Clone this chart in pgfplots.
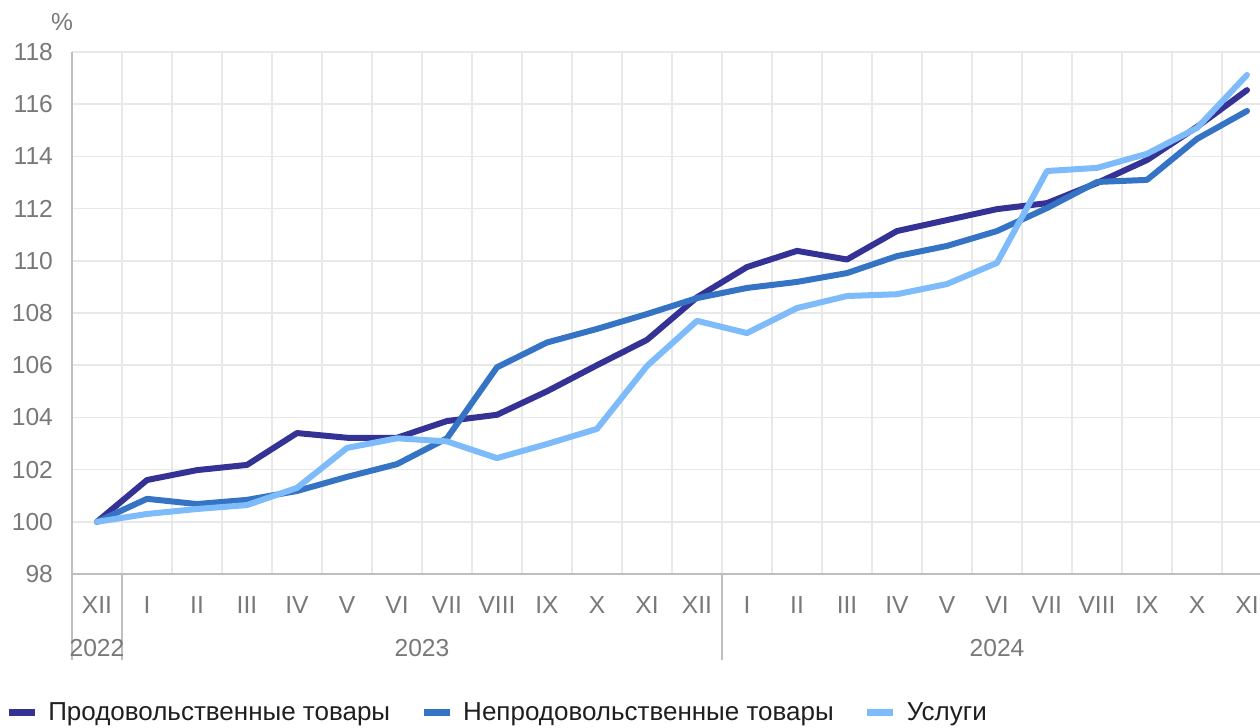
\documentclass[border=0pt]{standalone}
\usepackage{fontspec}
\setmainfont{Liberation Sans}
\usepackage{pgfplots}
\pgfplotsset{compat=1.18}
\definecolor{cfood}{RGB}{53,50,150}
\definecolor{cnon}{RGB}{53,116,196}
\definecolor{cserv}{RGB}{125,187,250}
\definecolor{gridc}{RGB}{232,232,232}
\definecolor{axc}{RGB}{190,190,190}
\definecolor{txtc}{RGB}{120,120,120}
\begin{document}
\begin{tikzpicture}
\useasboundingbox (-36pt,-77pt) rectangle (594pt,287pt);
\begin{axis}[
  at={(0,0)}, anchor=south west,
  scale only axis, width=594pt, height=261pt,
  xmin=-0.5, xmax=23.26, ymin=98, ymax=118,
  axis x line*=bottom, axis y line*=left,
  axis line style={draw=axc, line width=1.2pt, -},
  xtick={0,...,23},
  xticklabels={XII,I,II,III,IV,V,VI,VII,VIII,IX,X,XI,XII,I,II,III,IV,V,VI,VII,VIII,IX,X,XI},
  minor xtick={0.5,1.5,...,22.5},
  xminorgrids, ymajorgrids,
  minor grid style={draw=gridc, line width=0.8pt},
  major grid style={draw=gridc, line width=0.8pt},
  ytick={98,100,...,118},
  major tick length=0pt, minor tick length=0pt,
  tick label style={font=\fontsize{12.3}{14}\selectfont, text=txtc},
  xticklabel style={yshift=-8pt},
  yticklabel style={xshift=-6pt},
  /pgf/number format/assume math mode=true,
  clip=false,
  legend columns=3,
  legend style={at={(-0.0565,-0.266)}, anchor=west, draw=none, fill=none, inner sep=0pt,
    font=\fontsize{13}{15}\selectfont, text=black!88,
    /tikz/every odd column/.append style={column sep=5pt},
    /tikz/every even column/.append style={column sep=15pt},
    nodes={inner xsep=0pt}},
  legend image code/.code={\draw[#1, line width=3.5pt, line cap=butt] (0pt,0pt) -- (13pt,0pt);},
  every axis plot/.append style={line width=3pt, line join=round, line cap=round},
]
\addplot[cfood] coordinates {
(0,100) (1,101.6) (2,101.98) (3,102.18) (4,103.4) (5,103.22) (6,103.22) (7,103.86) (8,104.1) (9,105.0) (10,106.0) (11,106.97) (12,108.6)
(13,109.76) (14,110.38) (15,110.05) (16,111.14) (17,111.56) (18,111.98) (19,112.21) (20,112.98) (21,113.86) (22,115.13) (23,116.54)};
\addlegendentry{Продовольственные товары}
\addplot[cnon] coordinates {
(0,100) (1,100.88) (2,100.68) (3,100.84) (4,101.18) (5,101.72) (6,102.21) (7,103.2) (8,105.92) (9,106.87) (10,107.39) (11,107.96) (12,108.57)
(13,108.96) (14,109.19) (15,109.53) (16,110.18) (17,110.57) (18,111.14) (19,112.02) (20,113.02) (21,113.1) (22,114.67) (23,115.74)};
\addlegendentry{Непродовольственные товары}
\addplot[cserv] coordinates {
(0,100) (1,100.3) (2,100.49) (3,100.64) (4,101.3) (5,102.83) (6,103.2) (7,103.08) (8,102.44) (9,102.98) (10,103.56) (11,105.97) (12,107.7)
(13,107.23) (14,108.19) (15,108.65) (16,108.72) (17,109.11) (18,109.92) (19,113.44) (20,113.56) (21,114.1) (22,115.09) (23,117.12)};
\addlegendentry{Услуги}
\draw[axc, line width=1.2pt] (axis cs:-0.5,98) -- (axis cs:-0.5,94.7);
\draw[axc, line width=1.2pt] (axis cs:0.5,98) -- (axis cs:0.5,94.7);
\draw[axc, line width=1.2pt] (axis cs:12.5,98) -- (axis cs:12.5,94.7);
\node[text=txtc, font=\fontsize{12.3}{14}\selectfont] at (axis cs:0,98) [yshift=-37pt] {2022};
\node[text=txtc, font=\fontsize{12.3}{14}\selectfont] at (axis cs:6.5,98) [yshift=-37pt] {2023};
\node[text=txtc, font=\fontsize{12.3}{14}\selectfont] at (axis cs:18,98) [yshift=-37pt] {2024};
\node[text=txtc, font=\fontsize{12.3}{14}\selectfont] at (axis cs:-0.5,118) [xshift=-5pt, yshift=15pt] {\%};
\end{axis}
\end{tikzpicture}
\end{document}
